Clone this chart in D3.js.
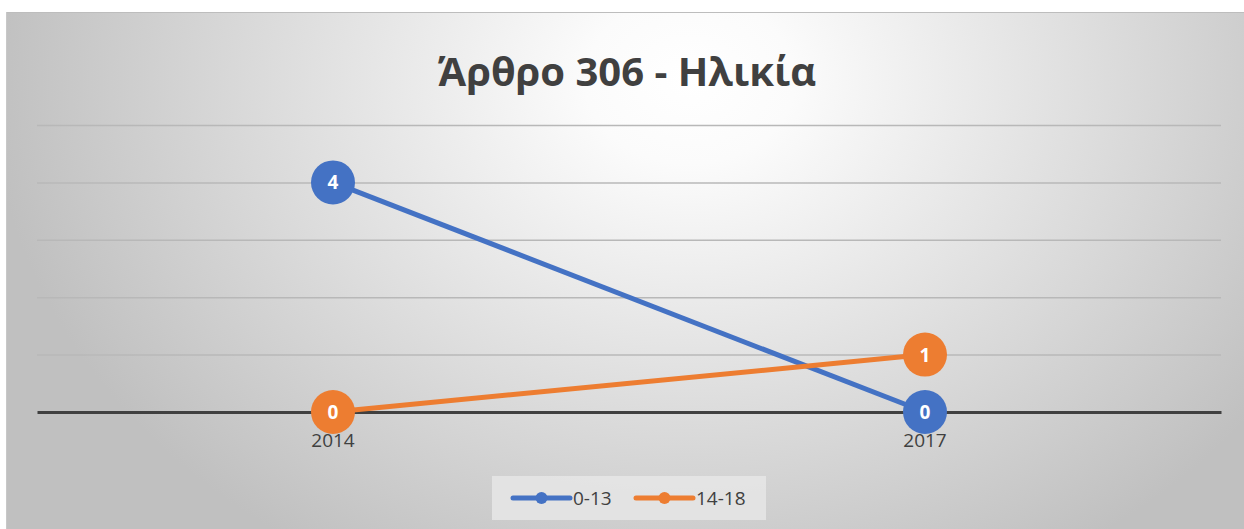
<!DOCTYPE html>
<html>
<head>
<meta charset="utf-8">
<script src="https://cdn.jsdelivr.net/npm/d3@7"></script>
<style>
  html, body { margin: 0; padding: 0; background: #fff; }
  svg { display: block; }
</style>
</head>
<body>
<svg id="chart" width="1244" height="529"></svg>
<script>
const title = "Άρθρο 306 - Ηλικία";
const years = ["2014", "2017"];
const seriesNames = ["0-13", "14-18"];
const values013 = [4, 0];
const values1418 = [0, 1];
const colors = ["#4472c4", "#ed7d31"];

const svg = d3.select("svg#chart");
const W = +svg.attr("width"), H = +svg.attr("height");

// background gradient
const defs = svg.append("defs");
const grad = defs.append("radialGradient")
    .attr("id", "bg")
    .attr("gradientUnits", "userSpaceOnUse")
    .attr("cx", 690).attr("cy", 80).attr("r", 700)
    .attr("gradientTransform", "translate(690,80) scale(1,0.8) translate(-690,-80)");
grad.append("stop").attr("offset", "0%").attr("stop-color", "#ffffff");
grad.append("stop").attr("offset", "15%").attr("stop-color", "#fbfbfb");
grad.append("stop").attr("offset", "100%").attr("stop-color", "#c0c0c0");

svg.append("rect")
    .attr("x", 6).attr("y", 12)
    .attr("width", W - 6).attr("height", H - 12)
    .attr("fill", "url(#bg)");
svg.append("line")
    .attr("x1", 6).attr("x2", W).attr("y1", 12.5).attr("y2", 12.5)
    .attr("stroke", "#bdbdbd").attr("stroke-width", 1);
svg.append("line")
    .attr("x1", 6.5).attr("x2", 6.5).attr("y1", 12).attr("y2", H)
    .attr("stroke", "#c8c8c8").attr("stroke-width", 1);

svg.append("text")
    .attr("x", 627).attr("y", 86)
    .attr("text-anchor", "middle")
    .attr("font-family", "'Open Sans', sans-serif")
    .attr("font-weight", "bold")
    .attr("font-size", 40)
    .attr("fill", "#404040")
    .text(title);

const x = d3.scaleBand().domain(years).range([37, 1221]);
const y = d3.scaleLinear().domain([0, 5]).range([412, 125]);

// gridlines
const grid = svg.append("g")
    .attr("transform", "translate(37,0)")
    .call(d3.axisLeft(y).ticks(5).tickSize(-(1221 - 37)).tickFormat(""));
grid.select(".domain").remove();
grid.selectAll(".tick line").attr("stroke", "#b8b8b8").attr("stroke-width", 1.5);
grid.selectAll(".tick").filter(d => d === 0).remove();

const series = [
    { name: seriesNames[0], values: values013, color: colors[0] },
    { name: seriesNames[1], values: values1418, color: colors[1] }
];

const line = d3.line()
    .x((d, i) => x(years[i]) + x.bandwidth() / 2)
    .y(d => y(d));

// baseline
const xAxis = svg.append("g")
    .attr("transform", `translate(0,${y(0)})`)
    .call(d3.axisBottom(x).tickSize(0).tickPadding(22));
xAxis.select(".domain").attr("stroke", "#404040").attr("stroke-width", 3);
xAxis.selectAll(".tick text")
    .attr("font-family", "'Open Sans', sans-serif")
    .attr("font-size", 19)
    .attr("fill", "#404040");

series.forEach(s => {
    svg.append("path")
        .datum(s.values)
        .attr("d", line)
        .attr("fill", "none")
        .attr("stroke", s.color)
        .attr("stroke-width", 5);
});

series.forEach(s => {
    const g = svg.append("g");
    g.selectAll("circle")
        .data(s.values)
        .join("circle")
        .attr("cx", (d, i) => x(years[i]) + x.bandwidth() / 2)
        .attr("cy", d => y(d))
        .attr("r", 22)
        .attr("fill", s.color);
    g.selectAll("text")
        .data(s.values)
        .join("text")
        .attr("x", (d, i) => x(years[i]) + x.bandwidth() / 2)
        .attr("y", d => y(d) + 7)
        .attr("text-anchor", "middle")
        .attr("font-family", "'Open Sans', sans-serif")
        .attr("font-weight", "bold")
        .attr("font-size", 19)
        .attr("fill", "#fff")
        .text(d => d);
});

// legend
const legend = svg.append("g");
legend.append("rect")
    .attr("x", 492).attr("y", 476).attr("width", 274).attr("height", 44)
    .attr("fill", "#e6e6e6").attr("opacity", 0.85);
const legendX = [513, 636];
series.forEach((s, i) => {
    const lg = legend.append("g").attr("transform", `translate(${legendX[i]},498)`);
    lg.append("line").attr("x1", 0).attr("x2", 57)
        .attr("stroke", s.color).attr("stroke-width", 5).attr("stroke-linecap", "round");
    lg.append("circle").attr("cx", 28.5).attr("r", 6).attr("fill", s.color);
    lg.append("text").attr("x", 60).attr("y", 7)
        .attr("font-family", "'Open Sans', sans-serif")
        .attr("font-size", 19)
        .attr("fill", "#404040")
        .text(s.name);
});
</script>
</body>
</html>
